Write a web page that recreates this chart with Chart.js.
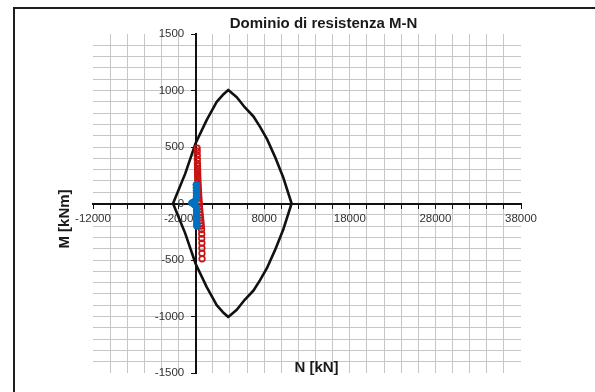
<!DOCTYPE html>
<html>
<head>
<meta charset="utf-8">
<script src="https://cdn.jsdelivr.net/npm/chart.js@4.4.0/dist/chart.umd.min.js"></script>
<style>
  html, body { margin: 0; padding: 0; background: #fff; overflow: hidden; }
  #frame { position: absolute; left: 13px; top: 7px; width: 800px; height: 600px; border: 2px solid #1e1e1e; }
  #chart { position: absolute; left: 0; top: 0; }
</style>
</head>
<body>
<div id="frame"></div>
<canvas id="chart" width="595" height="392"></canvas>
<script>
const chartTitle = 'Dominio di resistenza M-N';
const xTitle = 'N [kN]';
const yTitle = 'M [kNm]';

// dominio (contorno chiuso)
const domainN = [-2650, -1250, 0, 1290, 2450, 3150, 3800, 4800, 5750, 6750, 7500, 8300, 9250, 10250, 11200,
                 10250, 9250, 8300, 7500, 6750, 5750, 4800, 3800, 3150, 2450, 1290, 0, -1250, -2650];
const domainM = [0, 260, 535, 740, 900, 960, 1005, 940, 850, 770, 680, 575, 415, 225, 0,
                 -225, -415, -575, -680, -770, -850, -940, -1005, -960, -900, -740, -535, -260, 0];

// sollecitazioni (rosso)
const redN = [160, 170, 180, 190, 200, 210, 215, 220, 225, 230, 240, 250, 260, 270, 290, 310, 330, 350,
              370, 390, 410, 430, 460, 490, 520, 560, 590, 620, 650, 680, 700, 700, 720, 720, 730, 740];
const redM = [490, 460, 425, 390, 355, 330, 310, 290, 270, 250, 230, 210, 190, 170, 150, 125, 100, 75,
              50, 25, 0, -25, -50, -75, -100, -125, -150, -175, -200, -230, -270, -310, -350, -395, -440, -490];

// sollecitazioni (blu)
const blueN = [60, 70, 80, 90, 90, 60, -200, -450, -150, 80, 100, 110, 110, 110, 120, 120, 130];
const blueM = [165, 140, 115, 90, 65, 40, 15, 5, -10, -35, -60, -85, -110, -135, -160, -185, -200];

const xLabels = [-12000, -2000, 8000, 18000, 28000, 38000];
const yLabels = [-1500, -1000, -500, 0, 500, 1000, 1500];

function toPoints(xs, ys) {
  return xs.map((v, i) => ({ x: v, y: ys[i] }));
}

const gridColor = '#c6c6c6';
const tickFont = { family: '"Liberation Sans", Arial, sans-serif', size: 11.5 };

const textPlugin = {
  id: 'texts',
  afterDraw(chart) {
    const ctx = chart.ctx;
    ctx.save();
    ctx.fillStyle = '#1a1a1a';
    ctx.font = 'bold 15px "Liberation Sans", Arial, sans-serif';
    ctx.textAlign = 'center';
    ctx.textBaseline = 'middle';
    ctx.fillText(chartTitle, 323.5, 23.5);
    ctx.fillText(xTitle, 316.5, 368);
    ctx.translate(65, 219);
    ctx.rotate(-Math.PI / 2);
    ctx.fillText(yTitle, 0, 0);
    ctx.restore();
  }
};

new Chart(document.getElementById('chart'), {
  type: 'scatter',
  data: {
    datasets: [
      {
        label: 'blu',
        data: toPoints(blueN, blueM),
        pointRadius: 3.3,
        pointBackgroundColor: '#0070C0',
        pointBorderColor: '#0070C0',
        pointBorderWidth: 1,
        order: 0
      },
      {
        label: 'rosso',
        data: toPoints(redN, redM),
        pointRadius: 2.8,
        pointBackgroundColor: 'rgba(255,255,255,0)',
        pointBorderColor: '#C81414',
        pointBorderWidth: 1.7,
        order: 1
      },
      {
        label: 'dominio',
        data: toPoints(domainN, domainM),
        showLine: true,
        borderColor: '#111',
        borderWidth: 2.6,
        borderJoinStyle: 'round',
        pointRadius: 0,
        fill: false,
        order: 2
      }
    ]
  },
  options: {
    responsive: false,
    animation: false,
    layout: { padding: { left: 93, right: 74, top: 34, bottom: 19 } },
    plugins: {
      legend: { display: false },
      tooltip: { enabled: false },
      title: { display: false }
    },
    scales: {
      x: {
        type: 'linear',
        position: { y: 0 },
        min: -12000,
        max: 38000,
        ticks: {
          stepSize: 2000,
          autoSkip: false,
          maxRotation: 0,
          minRotation: 0,
          padding: 4,
          color: '#333',
          font: tickFont,
          callback: v => xLabels.includes(v) ? String(v) : ''
        },
        grid: {
          color: c => (c.tick && [-12000, 0, 38000].includes(c.tick.value)) ? 'rgba(0,0,0,0)' : gridColor,
          lineWidth: 1,
          tickLength: 4,
          tickColor: '#111'
        },
        border: { color: '#111', width: 2 }
      },
      y: {
        type: 'linear',
        position: { x: 0 },
        min: -1500,
        max: 1500,
        ticks: {
          stepSize: 100,
          autoSkip: false,
          padding: 7,
          color: '#333',
          font: tickFont,
          // spazi finali per staccare le etichette dall'asse
          callback: v => yLabels.includes(v) ? String(v) + '\u2002\u2002' : ''
        },
        grid: {
          color: c => (c.tick && [-1500, 0, 1500].includes(c.tick.value)) ? 'rgba(0,0,0,0)' : gridColor,
          lineWidth: 1,
          tickLength: 4,
          tickColor: c => (c.tick && yLabels.includes(c.tick.value)) ? '#111' : 'rgba(0,0,0,0)'
        },
        border: { color: '#111', width: 2 }
      }
    }
  },
  plugins: [textPlugin]
});
</script>
</body>
</html>
